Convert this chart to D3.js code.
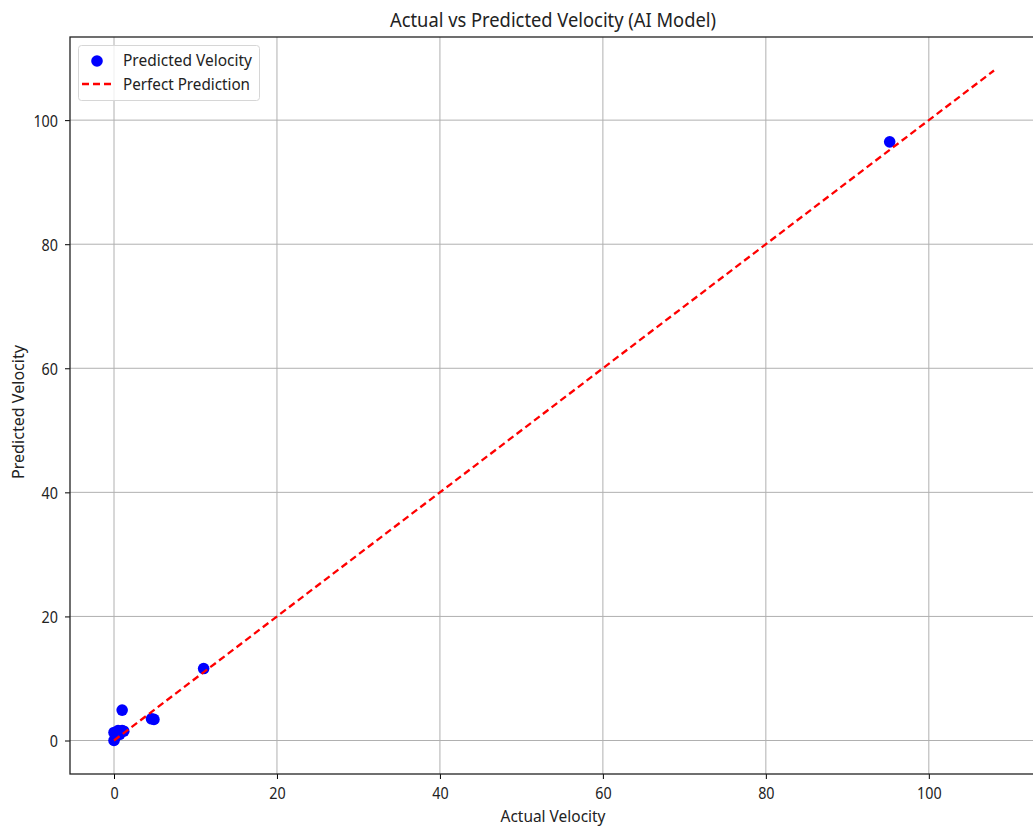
<!DOCTYPE html>
<html>
<head>
<meta charset="utf-8">
<script src="https://cdn.jsdelivr.net/npm/d3@7"></script>
<style>
  html, body { margin: 0; padding: 0; background: #fff; }
  svg { display: block; font-family: "Noto Sans", "DejaVu Sans", sans-serif; fill: #000; }
</style>
</head>
<body>
<svg id="chart" width="1033" height="831"></svg>
<script>
// Actual vs predicted velocity for each test sample
const actualVelocity    = [95.2, 11.0, 4.6, 4.9, 1.0, 0.0, 0.0, 0.5, 1.0, 1.2, 0.2, 0.7];
const predictedVelocity = [96.5, 11.6, 3.5, 3.4, 4.9, 0.0, 1.3, 1.6, 1.6, 1.5, 0.6, 1.0];
// Reference line y = x
const perfectLine = [0, 108];
const xTicks = [0, 20, 40, 60, 80, 100];
const yTicks = [0, 20, 40, 60, 80, 100];
const domainLimits = [-5.4, 113.4];

const svg = d3.select("#chart");
const plot = { left: 70, right: 1038, top: 37, bottom: 774 };

const x = d3.scaleLinear().domain(domainLimits).range([plot.left, plot.right]);
const y = d3.scaleLinear().domain(domainLimits).range([plot.bottom, plot.top]);

// Condensed-looking text: fixed font size, width set explicitly
function condensed(sel, width) {
  return sel.attr("textLength", width).attr("lengthAdjust", "spacingAndGlyphs");
}

// Grid
const grid = svg.append("g").attr("stroke", "#b0b0b0").attr("stroke-width", 1);
grid.selectAll(".gx").data(xTicks).join("line")
  .attr("x1", d => x(d)).attr("x2", d => x(d))
  .attr("y1", plot.top).attr("y2", plot.bottom);
grid.selectAll(".gy").data(yTicks).join("line")
  .attr("y1", d => y(d)).attr("y2", d => y(d))
  .attr("x1", plot.left).attr("x2", plot.right);

// Scatter points
svg.append("g").selectAll("circle")
  .data(actualVelocity.map((a, i) => [a, predictedVelocity[i]]))
  .join("circle")
  .attr("cx", d => x(d[0])).attr("cy", d => y(d[1]))
  .attr("r", 5.8).attr("fill", "#0000ff");

// Perfect prediction line
svg.append("line")
  .attr("x1", x(perfectLine[0])).attr("y1", y(perfectLine[0]))
  .attr("x2", x(perfectLine[1])).attr("y2", y(perfectLine[1]))
  .attr("stroke", "#ff0000").attr("stroke-width", 2.3)
  .attr("stroke-dasharray", "7,4");

// Axes
const digitWidth = 8.2;
const xAxis = d3.axisBottom(x).tickValues(xTicks).tickSize(5).tickPadding(3).tickFormat(d3.format("d"));
const yAxis = d3.axisLeft(y).tickValues(yTicks).tickSize(5).tickPadding(7).tickFormat(d3.format("d"));

const gx = svg.append("g").attr("transform", `translate(0,${plot.bottom})`).call(xAxis);
const gy = svg.append("g").attr("transform", `translate(${plot.left},0)`).call(yAxis);
[gx, gy].forEach(g => {
  g.select(".domain").remove();
  g.selectAll(".tick line").attr("stroke", "#000").attr("stroke-width", 1);
  g.selectAll(".tick text")
    .attr("font-size", 17).attr("fill", "#222")
    .attr("font-family", "Noto Sans, DejaVu Sans, sans-serif")
    .each(function(d) { condensed(d3.select(this), String(d).length * digitWidth); });
});
gx.selectAll(".tick text").attr("dy", null).attr("y", 25);
gy.selectAll(".tick text").attr("dy", "0.36em");

// Spines
svg.append("rect")
  .attr("x", plot.left).attr("y", plot.top)
  .attr("width", plot.right - plot.left).attr("height", plot.bottom - plot.top)
  .attr("fill", "none").attr("stroke", "#222").attr("stroke-width", 1.3);

// Title and axis labels
condensed(svg.append("text").attr("x", 553).attr("y", 27).attr("text-anchor", "middle")
  .attr("font-size", 20).attr("fill", "#222").text("Actual vs Predicted Velocity (AI Model)"), 326);
condensed(svg.append("text").attr("x", 553).attr("y", 822).attr("text-anchor", "middle")
  .attr("font-size", 17).attr("fill", "#222").text("Actual Velocity"), 105);
condensed(svg.append("text").attr("transform", "translate(24,412) rotate(-90)").attr("text-anchor", "middle")
  .attr("font-size", 17).attr("fill", "#222").text("Predicted Velocity"), 134);

// Legend
const legend = svg.append("g").attr("transform", "translate(78,45)");
legend.append("rect").attr("x", 0.5).attr("y", 0.5).attr("width", 181).attr("height", 55).attr("rx", 3)
  .attr("fill", "#fff").attr("fill-opacity", 0.8).attr("stroke", "#d6d6d6");
legend.append("circle").attr("cx", 19).attr("cy", 16).attr("r", 5.8).attr("fill", "#0000ff");
legend.append("line").attr("x1", 4).attr("x2", 34).attr("y1", 39).attr("y2", 39)
  .attr("stroke", "#ff0000").attr("stroke-width", 2.3).attr("stroke-dasharray", "7,4");
condensed(legend.append("text").attr("x", 45).attr("y", 21).attr("font-size", 16)
  .attr("fill", "#222").text("Predicted Velocity"), 129);
condensed(legend.append("text").attr("x", 45).attr("y", 45).attr("font-size", 16)
  .attr("fill", "#222").text("Perfect Prediction"), 127);
</script>
</body>
</html>
